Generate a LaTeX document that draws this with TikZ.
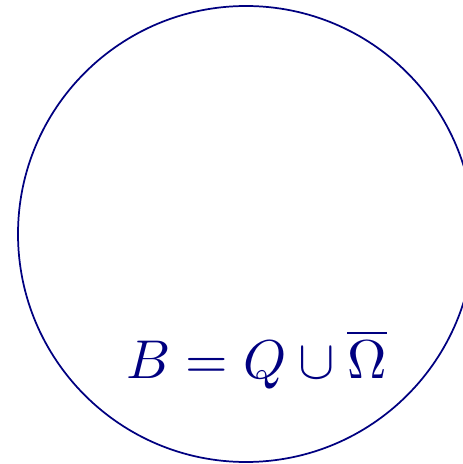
\documentclass[tikz,border=0pt]{standalone}
\usepackage{amsmath}
\usepackage{amssymb}
\usepackage{tikz}
\usetikzlibrary{calc,positioning}

\definecolor{navyblue}{rgb}{0,0,0.5}

\begin{document}
\begin{tikzpicture}[x=0.75pt, y=0.75pt]

\clip (0,0) rectangle (463,464);
\useasboundingbox (0,0) rectangle (463,464);

\draw[navyblue, line width=1.3pt] (246,230) circle (228);

\node[navyblue, scale=4.1, anchor=base] (eq) at (256.5,86) {$B = Q \cup \overline{\Omega}$};

\end{tikzpicture}
\end{document}
